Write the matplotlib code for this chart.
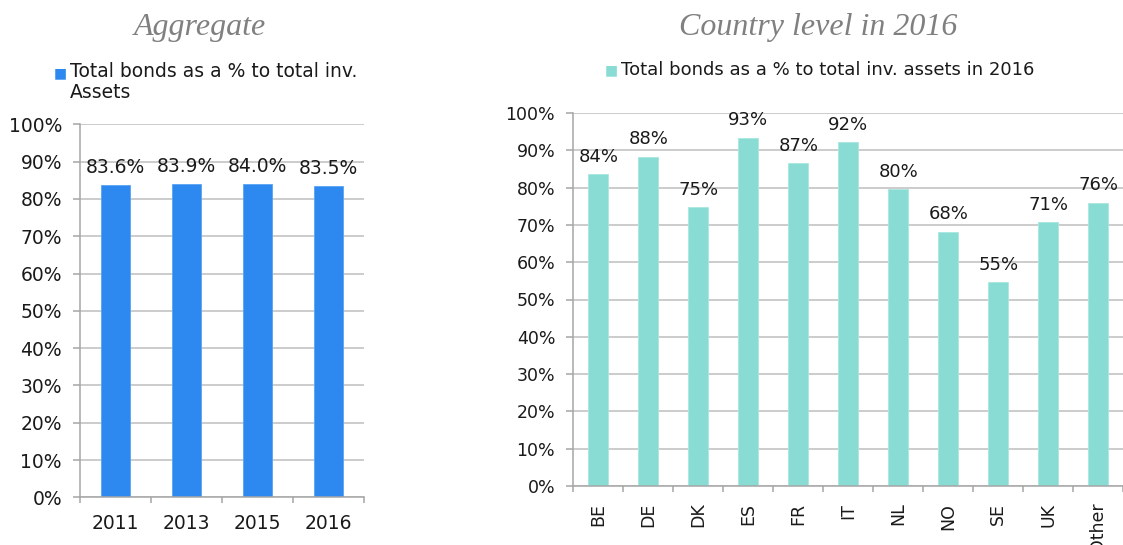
import matplotlib
matplotlib.use("Agg")
import matplotlib.pyplot as plt
import numpy as np
from matplotlib.ticker import FixedLocator, PercentFormatter

# ---- data ----
agg_years = ["2011", "2013", "2015", "2016"]
agg_values = [83.6, 83.9, 84.0, 83.5]
agg_labels = ["83.6%", "83.9%", "84.0%", "83.5%"]
agg_series = "Total bonds as a % to total inv.\nAssets"

countries = ["BE", "DE", "DK", "ES", "FR", "IT", "NL", "NO", "SE", "UK", "Other"]
country_values = [83.6, 88.3, 74.8, 93.4, 86.6, 92.1, 79.6, 68.2, 54.6, 70.8, 76.0]
country_series = "Total bonds as a % to total inv. assets in 2016"

title_left = "Aggregate"
title_right = "Country level in 2016"

# ---- style ----
BLUE = "#2D89EF"
TEAL = "#88DCD4"
GRID = "#BFBFBF"
SPINE = "#A6A6A6"
TXT = "#1a1a1a"

plt.rcParams["font.family"] = ["DejaVu Sans"]

W, H = 1123, 545
fig = plt.figure(figsize=(W / 100, H / 100), dpi=100)


def px_axes(x0, y0, x1, y1):
    return fig.add_axes([x0 / W, 1 - y1 / H, (x1 - x0) / W, (y1 - y0) / H])


def style_axes(ax, n, fs):
    ax.set_ylim(0, 100)
    ax.set_xlim(-0.5, n - 0.5)
    ax.yaxis.set_major_locator(FixedLocator(np.arange(0, 101, 10)))
    ax.yaxis.set_major_formatter(PercentFormatter(decimals=0))
    ax.grid(axis="y", color=GRID, linewidth=1.1)
    ax.set_axisbelow(True)
    for s in ["top", "right"]:
        ax.spines[s].set_visible(False)
    for s in ["left", "bottom"]:
        ax.spines[s].set_color(SPINE)
        ax.spines[s].set_linewidth(1.1)
    ax.tick_params(axis="y", length=5, color=SPINE, width=1.1, pad=8,
                   labelsize=fs, labelcolor=TXT)
    ax.xaxis.set_minor_locator(FixedLocator(np.arange(-0.5, n, 1.0)))
    ax.tick_params(axis="x", which="minor", length=4, color=SPINE, width=1.1)
    ax.tick_params(axis="x", which="major", length=0, labelsize=fs,
                   labelcolor=TXT)


# ---- left: aggregate ----
axL = px_axes(80, 124.3, 364, 497.3)
xL = np.arange(len(agg_years))
barsL = axL.bar(xL, agg_values, width=0.4, color=BLUE, edgecolor="#5AA3F2",
                linewidth=0.6)
style_axes(axL, len(agg_years), 13.5)
axL.set_xticks(xL)
axL.set_xticklabels(agg_years)
axL.tick_params(axis="x", which="major", pad=12)
for b, lab in zip(barsL, agg_labels):
    axL.annotate(lab, (b.get_x() + b.get_width() / 2, b.get_height()),
                 xytext=(0, 6), textcoords="offset points", ha="center",
                 va="bottom", fontsize=13.5, color=TXT)

# ---- right: country level ----
axR = px_axes(573.3, 113, 1123.3, 486)
xR = np.arange(len(countries))
barsR = axR.bar(xR, country_values, width=0.4, color=TEAL, edgecolor="#A8E6DF",
                linewidth=0.6)
style_axes(axR, len(countries), 12.5)
axR.set_xticks(xR)
axR.set_xticklabels(countries, rotation=90, va="top")
axR.tick_params(axis="x", which="major", pad=12)
for b, v in zip(barsR, country_values):
    axR.annotate(f"{v:.0f}%", (b.get_x() + b.get_width() / 2, b.get_height()),
                 xytext=(0, 6), textcoords="offset points", ha="center",
                 va="bottom", fontsize=13, color=TXT)

# ---- legends (manual) ----
fig.text(54 / W, 1 - 73 / H, "\u25A0", color=BLUE, fontsize=10,
         ha="left", va="center")
fig.text(70 / W, 1 - 62 / H, agg_series, color=TXT, fontsize=13.5,
         ha="left", va="top", linespacing=1.15)
fig.text(605 / W, 1 - 70 / H, "\u25A0", color=TEAL, fontsize=10,
         ha="left", va="center")
fig.text(621 / W, 1 - 70 / H, country_series, color=TXT, fontsize=13,
         ha="left", va="center")

# ---- subtitles ----
fig.text(200 / W, 1 - 27 / H, title_left, family="Liberation Serif",
         style="italic", fontsize=23, color="#808080", ha="center",
         va="center")
fig.text(818 / W, 1 - 27 / H, title_right, family="Liberation Serif",
         style="italic", fontsize=23, color="#808080", ha="center",
         va="center")

fig.savefig("out.png", dpi=100)
